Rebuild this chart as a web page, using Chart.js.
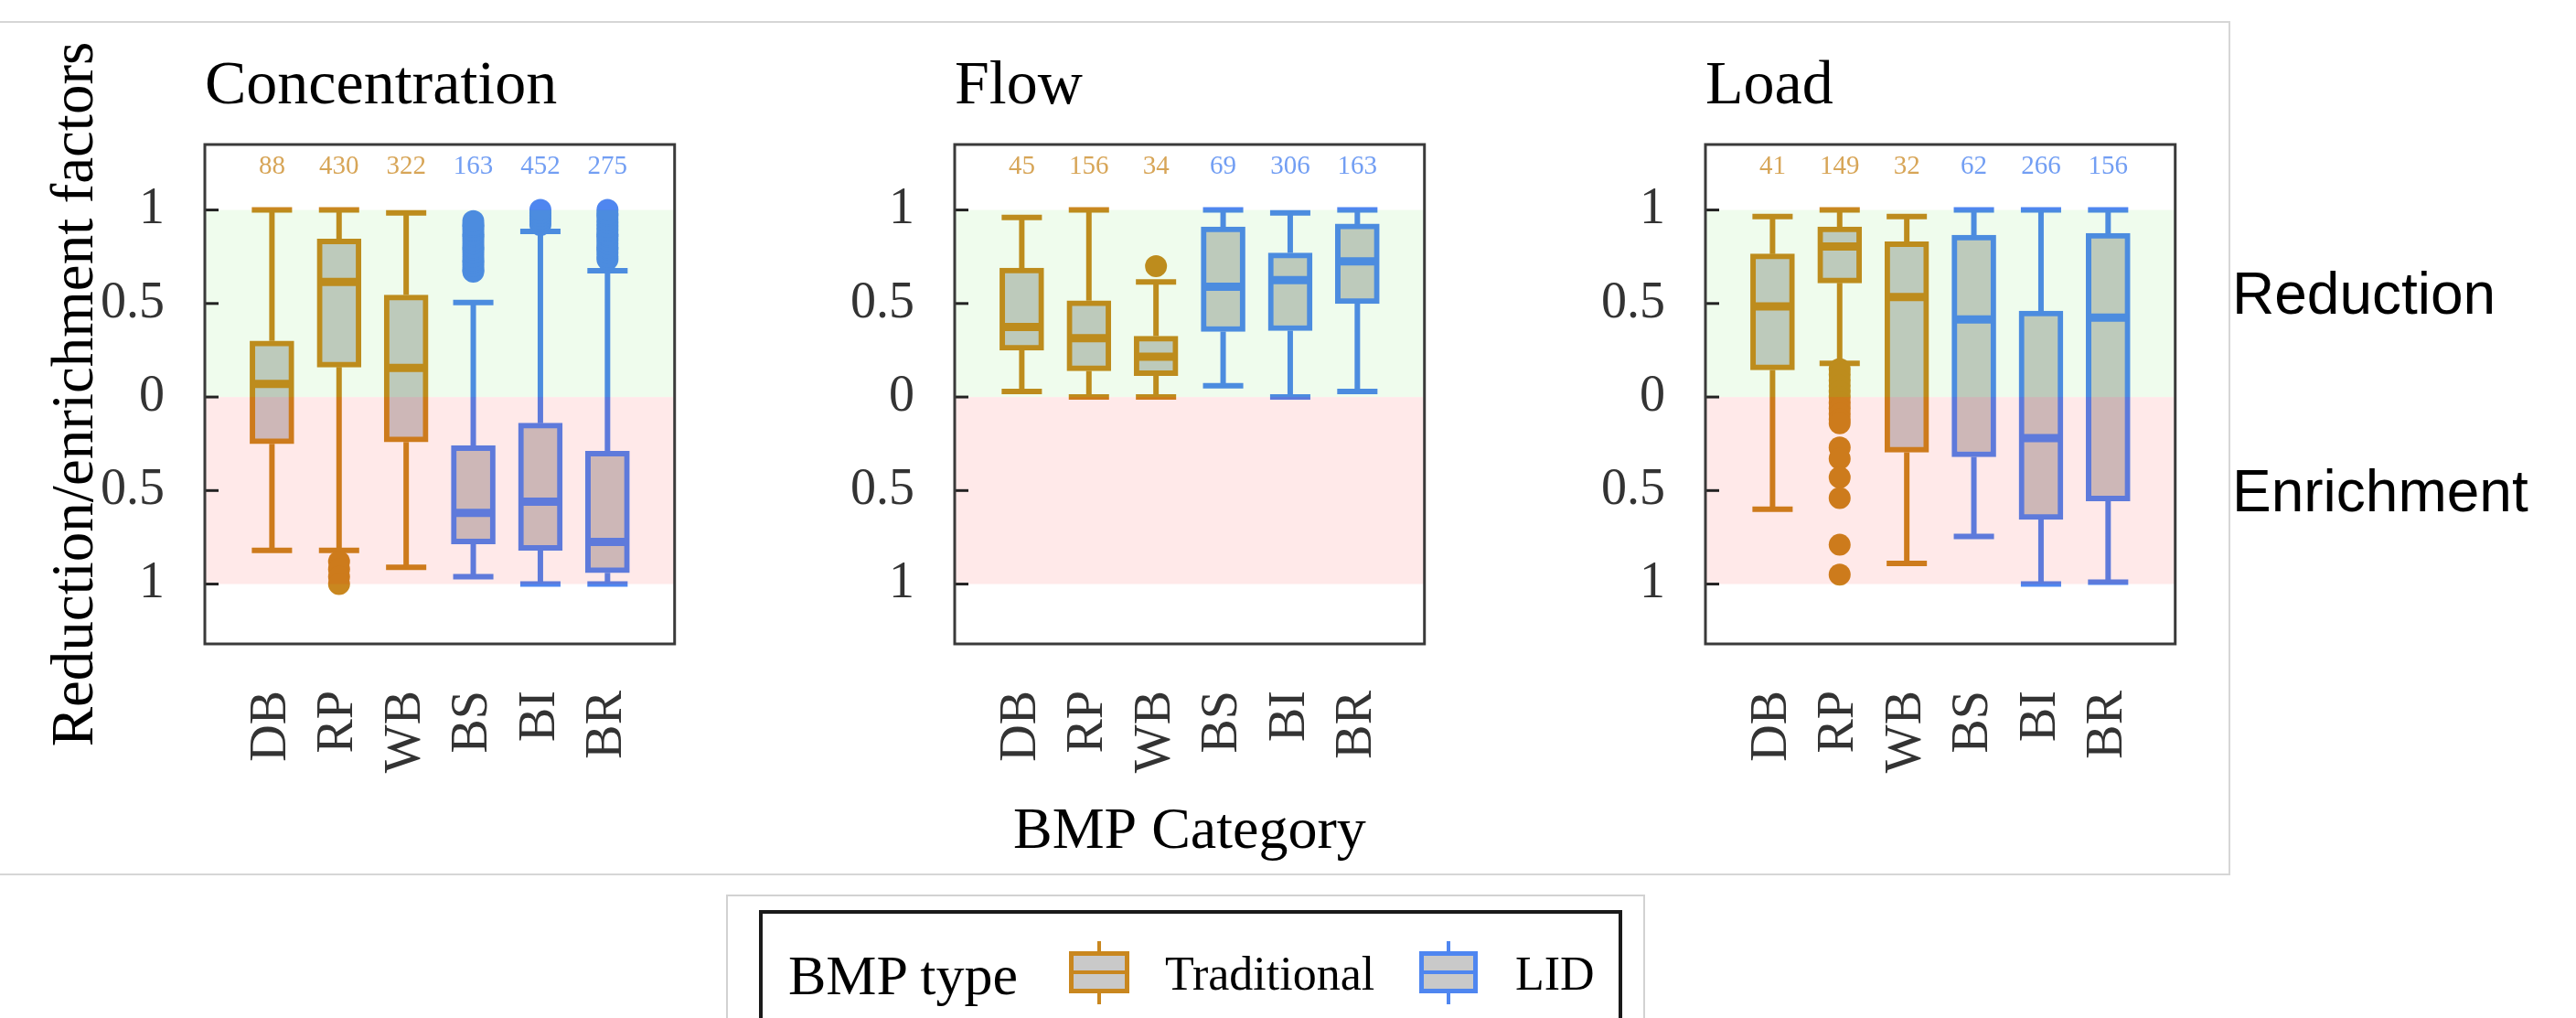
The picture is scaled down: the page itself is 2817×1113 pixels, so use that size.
<!DOCTYPE html>
<html>
<head>
<meta charset="utf-8">
<script src="https://cdn.jsdelivr.net/npm/chart.js@4.4.1/dist/chart.umd.min.js"></script>
<style>
  body { margin: 0; width: 2817px; height: 1113px; overflow: hidden; background: #fff; position: relative; }
  canvas { position: absolute; top: 40px; }
  .abs { position: absolute; white-space: nowrap; line-height: 1; }
  .serif { font-family: 'Liberation Serif', serif; color: #000; }
  .sans { font-family: 'Liberation Sans', Arial, sans-serif; color: #000; font-size: 64px; }
</style>
</head>
<body>
<div class="abs" style="left:-2px; top:23px; width:2437px; height:930px; border:2px solid #d6d6d6;"></div>

<canvas id="c0" width="790" height="920" style="left:0px"></canvas>
<canvas id="c1" width="790" height="920" style="left:820px"></canvas>
<canvas id="c2" width="790" height="920" style="left:1641px"></canvas>

<div class="abs sans" style="left:2441px; top:289px;">Reduction</div>
<div class="abs sans" style="left:2441px; top:505px;">Enrichment</div>

<!-- legend -->
<div class="abs" style="left:794px; top:978px; width:1001px; height:200px; border:2px solid #d2d2d2;"></div>
<div class="abs" style="left:830px; top:995px; width:936px; height:200px; border:4px solid #1a1a1a;"></div>
<div class="abs serif" style="left:862px; top:1035px; font-size:62px;">BMP type</div>
<div class="abs" style="left:1200px; top:1029px; width:4px; height:69px; background:#c9871f;"></div>
<div class="abs" style="left:1169px; top:1040px; width:66px; height:46px; box-sizing:border-box; border:5px solid #c9871f; background:#c9c9c9;"></div>
<div class="abs" style="left:1169px; top:1061px; width:66px; height:4px; background:#c9871f;"></div>
<div class="abs serif" style="left:1274px; top:1039px; font-size:52px;">Traditional</div>
<div class="abs" style="left:1582px; top:1029px; width:4px; height:69px; background:#4f86f0;"></div>
<div class="abs" style="left:1552px; top:1040px; width:64px; height:46px; box-sizing:border-box; border:5px solid #4f86f0; background:#c9c9c9;"></div>
<div class="abs" style="left:1552px; top:1061px; width:64px; height:4px; background:#4f86f0;"></div>
<div class="abs serif" style="left:1657px; top:1039px; font-size:52px;">LID</div>

<script>
const categories = ['DB', 'RP', 'WB', 'BS', 'BI', 'BR'];
const bmpTypes = ['Traditional', 'LID'];
const typeIndex = [[0, 1, 2], [3, 4, 5]];
const panelTitles = ['Concentration', 'Flow', 'Load'];
const yTickValues = [-1, -0.5, 0, 0.5, 1];
const yTickLabels = ['1', '0.5', '0', '0.5', '1'];
const countY = 1.233;

// Concentration
const concN = [88, 430, 322, 163, 452, 275];
const concLower = [-0.82, -0.82, -0.91, -0.96, -1.0, -1.0];
const concQ1 = [-0.25, 0.16, -0.24, -0.785, -0.82, -0.94];
const concMedian = [0.07, 0.615, 0.155, -0.62, -0.56, -0.775];
const concQ3 = [0.30, 0.845, 0.545, -0.26, -0.14, -0.29];
const concUpper = [1.0, 1.0, 0.985, 0.505, 0.885, 0.675];
const concOutliers = [
  [],
  [-0.88, -0.92, -0.96, -1.0],
  [],
  [0.67, 0.68, 0.70, 0.72, 0.73, 0.75, 0.77, 0.79, 0.80, 0.82, 0.84, 0.86, 0.87, 0.89, 0.91, 0.92, 0.94],
  [0.92, 0.94, 0.955, 0.97, 0.985, 1.0],
  [0.735, 0.75, 0.77, 0.79, 0.80, 0.82, 0.84, 0.86, 0.87, 0.89, 0.91, 0.93, 0.95, 0.97, 0.98, 1.0]
];

// Flow
const flowN = [45, 156, 34, 69, 306, 163];
const flowLower = [0.03, 0.0, 0.0, 0.06, 0.0, 0.03];
const flowQ1 = [0.25, 0.14, 0.115, 0.35, 0.355, 0.50];
const flowMedian = [0.375, 0.315, 0.215, 0.59, 0.625, 0.725];
const flowQ3 = [0.69, 0.515, 0.325, 0.91, 0.77, 0.925];
const flowUpper = [0.96, 1.0, 0.615, 1.0, 0.985, 1.0];
const flowOutliers = [[], [], [0.70], [], [], []];

// Load
const loadN = [41, 149, 32, 62, 266, 156];
const loadLower = [-0.6, 0.18, -0.89, -0.745, -1.0, -0.99];
const loadQ1 = [0.145, 0.61, -0.295, -0.32, -0.655, -0.555];
const loadMedian = [0.485, 0.805, 0.535, 0.415, -0.22, 0.425];
const loadQ3 = [0.765, 0.91, 0.83, 0.865, 0.46, 0.875];
const loadUpper = [0.965, 1.0, 0.965, 1.0, 1.0, 1.0];
const loadOutliers = [
  [],
  [0.15, 0.12, 0.09, 0.06, 0.03, 0.0, -0.03, -0.06, -0.09, -0.12, -0.14, -0.27, -0.33, -0.43, -0.54, -0.79, -0.95],
  [], [], [], []
];

const SERIF = "'Liberation Serif', 'Times New Roman', serif";
const lineColors = ['#c9871f', '#4f86f0'];
const countColors = ['rgba(201,135,31,0.75)', 'rgba(79,134,240,0.8)'];
const capHalf = 0.3;

const panels = [
  {title: panelTitles[0], n: concN, lower: concLower, q1: concQ1, med: concMedian, q3: concQ3, upper: concUpper, out: concOutliers},
  {title: panelTitles[1], n: flowN, lower: flowLower, q1: flowQ1, med: flowMedian, q3: flowQ3, upper: flowUpper, out: flowOutliers},
  {title: panelTitles[2], n: loadN, lower: loadLower, q1: loadQ1, med: loadMedian, q3: loadQ3, upper: loadUpper, out: loadOutliers}
];

function whiskers(ids, p) {
  const pts = [];
  ids.forEach(i => {
    const x = i + 1;
    pts.push({x: x, y: p.q3[i]}, {x: x, y: p.upper[i]}, {x: x, y: null});
    pts.push({x: x - capHalf, y: p.upper[i]}, {x: x + capHalf, y: p.upper[i]}, {x: x, y: null});
    pts.push({x: x, y: p.q1[i]}, {x: x, y: p.lower[i]}, {x: x, y: null});
    pts.push({x: x - capHalf, y: p.lower[i]}, {x: x + capHalf, y: p.lower[i]}, {x: x, y: null});
  });
  return pts;
}

function medians(ids, p) {
  const pts = [];
  ids.forEach(i => {
    pts.push({x: i + 1 - capHalf, y: p.med[i]}, {x: i + 1 + capHalf, y: p.med[i]}, {x: i + 1, y: null});
  });
  return pts;
}

// bands (drawn over the boxes), inward ticks, counts and frame
const decor = {
  id: 'decor',
  afterDatasetsDraw(chart, args, opts) {
    const {ctx, chartArea: a, scales: {x, y}} = chart;
    ctx.save();
    const yTop = y.getPixelForValue(1), yZero = y.getPixelForValue(0), yBot = y.getPixelForValue(-1);
    ctx.fillStyle = 'rgba(40,220,20,0.075)';
    ctx.fillRect(a.left, yTop, a.width, yZero - yTop);
    ctx.fillStyle = 'rgba(255,0,0,0.085)';
    ctx.fillRect(a.left, yZero, a.width, yBot - yZero);

    ctx.strokeStyle = '#222';
    ctx.lineWidth = 3;
    y.ticks.forEach(t => {
      const py = y.getPixelForValue(t.value);
      ctx.beginPath();
      ctx.moveTo(a.left, py);
      ctx.lineTo(a.left + 15, py);
      ctx.stroke();
    });

    ctx.font = '29px ' + SERIF;
    ctx.textAlign = 'center';
    ctx.textBaseline = 'middle';
    typeIndex.forEach((ids, t) => {
      ctx.fillStyle = countColors[t];
      ids.forEach(i => ctx.fillText(String(opts.counts[i]), x.getPixelForValue(i + 1), y.getPixelForValue(countY)));
    });

    ctx.strokeStyle = '#3a3a3a';
    ctx.lineWidth = 3;
    ctx.strokeRect(a.left, a.top, a.width, a.height);
    ctx.restore();
  }
};

panels.forEach((p, k) => {
  const datasets = [];
  typeIndex.forEach((ids, t) => {
    datasets.push({
      type: 'line', label: bmpTypes[t] + ' whiskers', order: 3,
      data: whiskers(ids, p), borderColor: lineColors[t], borderWidth: 6,
      pointRadius: 0, spanGaps: false, fill: false, tension: 0, borderCapStyle: 'butt'
    });
    datasets.push({
      type: 'bar', label: bmpTypes[t], order: 2,
      data: ids.map(i => ({x: i + 1, y: [p.q1[i], p.q3[i]]})),
      backgroundColor: '#c9c9c9', borderColor: lineColors[t], borderWidth: 6,
      borderSkipped: false, barThickness: 48, grouped: false
    });
    datasets.push({
      type: 'line', label: bmpTypes[t] + ' median', order: 1,
      data: medians(ids, p), borderColor: lineColors[t], borderWidth: 9,
      pointRadius: 0, spanGaps: false, fill: false, tension: 0, borderCapStyle: 'butt'
    });
    const outPts = [];
    ids.forEach(i => p.out[i].forEach(v => outPts.push({x: i + 1, y: v})));
    datasets.push({
      type: 'scatter', label: bmpTypes[t] + ' outliers', order: 0,
      data: outPts, pointRadius: 12, pointBackgroundColor: lineColors[t], pointBorderWidth: 0
    });
  });

  new Chart(document.getElementById('c' + k), {
    type: 'bar',
    data: {datasets: datasets},
    plugins: [decor],
    options: {
      responsive: false,
      animation: false,
      events: [],
      devicePixelRatio: 1,
      layout: {padding: {left: 0, right: 20, top: 0, bottom: 0}},
      plugins: {
        legend: {display: false},
        tooltip: {enabled: false},
        title: {
          display: true, text: p.title, align: 'start', fullSize: false, color: '#000',
          font: {family: SERIF, size: 68, weight: 'normal'}, padding: {top: 14.2, bottom: 22.2}
        },
        decor: {counts: p.n}
      },
      scales: {
        x: {
          type: 'linear', min: 0, max: 7, offset: false,
          grid: {display: false, drawTicks: false, offset: false}, border: {display: false},
          afterBuildTicks: s => { s.ticks = categories.map((c, i) => ({value: i + 1})); },
          afterFit: s => { s.height = 256; },
          ticks: {
            autoSkip: false, minRotation: 90, maxRotation: 90, padding: 51, color: '#333',
            font: {family: SERIF, size: 56}, callback: (v, i) => categories[i]
          },
          title: {
            display: k === 1, text: 'BMP Category', color: '#000',
            font: {family: SERIF, size: 64}, padding: {top: 0, bottom: 11.2}
          }
        },
        y: {
          type: 'linear', min: -1.32, max: 1.35,
          grid: {display: false, drawTicks: false}, border: {display: false},
          afterBuildTicks: s => { s.ticks = yTickValues.map(v => ({value: v})); },
          afterFit: s => { s.width = 224; },
          ticks: {padding: 44, color: '#333', font: {family: SERIF, size: 56}, callback: (v, i) => yTickLabels[i]},
          title: {
            display: k === 0, text: 'Reduction/enrichment factors', color: '#000',
            font: {family: SERIF, size: 65}, padding: {top: 45, bottom: 0}
          }
        }
      }
    }
  });
});
</script>
</body>
</html>
